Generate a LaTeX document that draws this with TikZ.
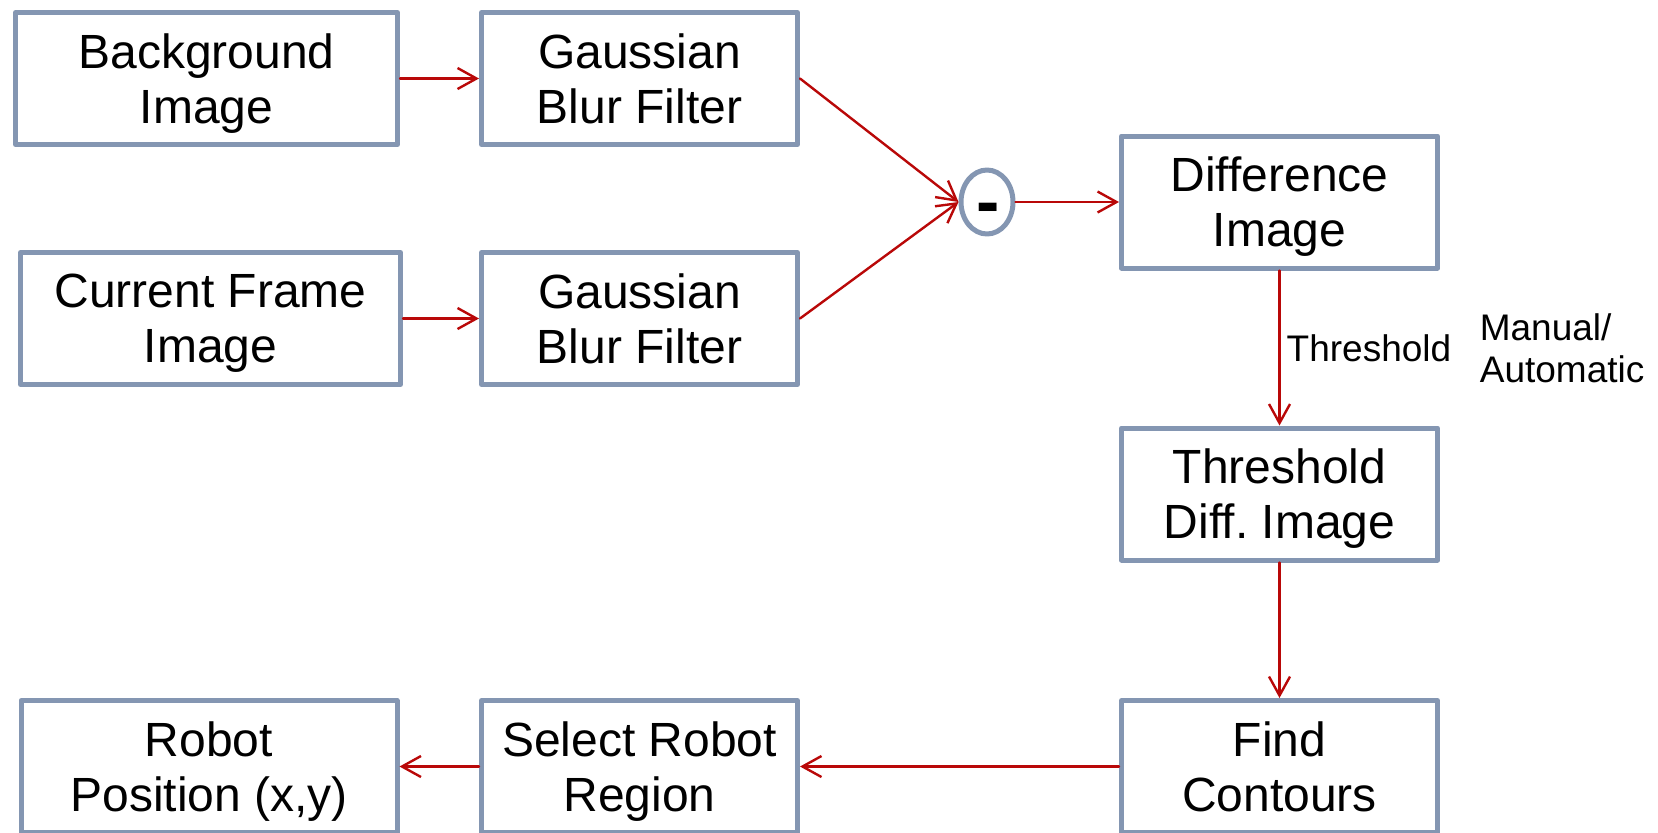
\documentclass[tikz,border=0pt]{standalone}
\usepackage{fontspec}
\setmainfont{Liberation Sans}
\usetikzlibrary{arrows.meta,shapes.geometric,positioning}
\definecolor{boxgray}{RGB}{132,150,178}
\definecolor{arrred}{RGB}{185,8,8}

\begin{document}
\begin{tikzpicture}[x=0.5pt, y=-0.5pt, line join=round, line cap=round,
		>={Straight Barb[length=9.5pt,width=10.5pt]},
		blk/.style={draw=boxgray, line width=2.5pt, fill=white, minimum height=66pt, inner sep=0pt,
			align=center, text depth=0pt, font=\fontsize{24}{27.5}\selectfont},
		sumop/.style={ellipse, draw=boxgray, line width=2.5pt, minimum width=26pt, minimum height=32pt, inner sep=0pt},
		flow/.style={->, draw=arrred, line width=1.2pt},
		lbl/.style={inner sep=0pt, font=\fontsize{18.5}{21}\selectfont}]
		\useasboundingbox (0,0) rectangle (1658,832);
		% input branch
		\node[blk, minimum width=191pt] (bg) at (206.5,78.5) {Background\\Image};
		\node[blk, minimum width=158pt] (g1) at (639.5,78.5) {Gaussian\\Blur Filter};
		\node[blk, minimum width=190pt] (cur) at (210.5,318.5) {Current Frame\\Image};
		\node[blk, minimum width=158pt] (g2) at (639.5,318.5) {Gaussian\\Blur Filter};
		% subtraction
		\node[sumop] (sub) at (987,202) {};
		\node[inner sep=0pt, anchor=base, font=\bfseries\fontsize{35}{35}\selectfont] (minus) at (988,225) {-};
		% right column and bottom row
		\node[blk, minimum width=158pt] (dif) at (1279.5,202) {Difference\\Image};
		\node[blk, minimum width=158pt] (thr) at (1279.5,494) {Threshold\\Diff.\ Image};
		\node[blk, minimum width=158pt] (fnd) at (1279.5,766.5) {Find\\Contours};
		\node[blk, minimum width=158pt] (sel) at (639.5,766.5) {Select Robot\\Region};
		\node[blk, minimum width=188pt] (rob) at (209,766.5) {Robot\\Position (x,y)};
		% connectors
		\draw[flow] (bg) -- (g1);
		\draw[flow] (cur) -- (g2);
		\draw[flow] (g1.east) -- (sub.west);
		\draw[flow] (g2.east) -- (sub.west);
		\draw[flow] (sub) -- (dif);
		\draw[flow] (dif) -- node[lbl, right=3pt] (thlab) {Threshold} (thr);
		\node[lbl, align=left, right=13.5pt of thlab] (mode) {Manual/\\Automatic};
		\draw[flow] (thr) -- (fnd);
		\draw[flow] (fnd) -- (sel);
		\draw[flow] (sel) -- (rob);
	\end{tikzpicture}
\end{document}
